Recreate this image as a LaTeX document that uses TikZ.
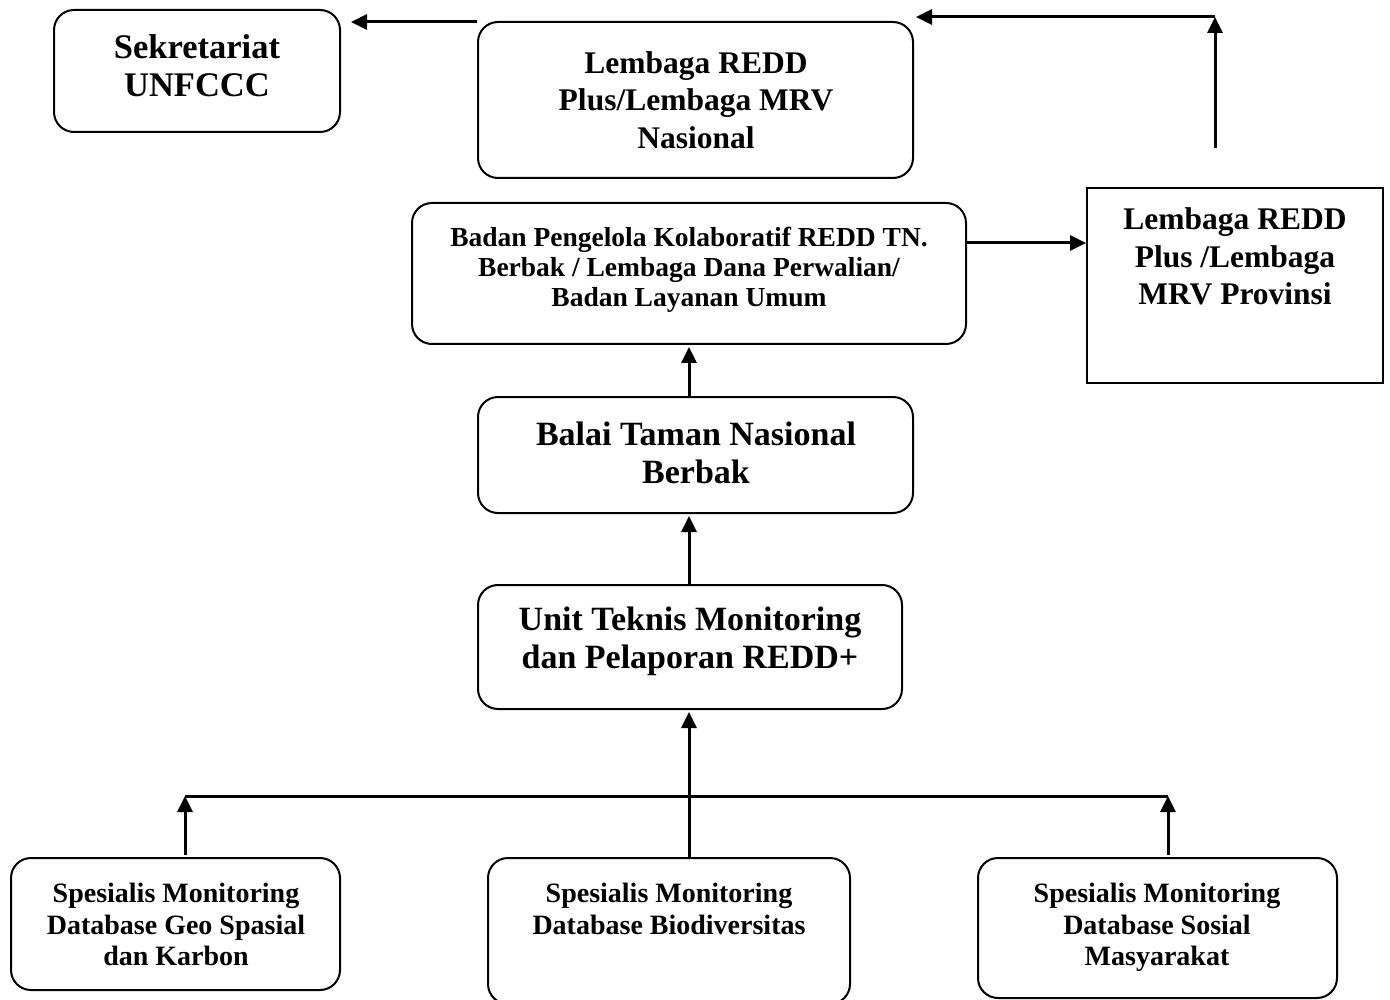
\documentclass[tikz,border=0pt]{standalone}
\usepackage{fontspec}
\setmainfont{Liberation Serif}
\usetikzlibrary{arrows.meta}
\begin{document}
\begin{tikzpicture}[x=1pt,y=-1pt,
  box/.style={draw, line width=2pt, rounded corners=20pt, inner sep=0pt},
  sbox/.style={draw, line width=1.8pt, inner sep=0pt},
  txt/.style={align=center, inner sep=0pt},
  big/.style={font=\fontsize{#1}{37.5}\selectfont\bfseries},
  mid/.style={font=\fontsize{27.5}{30}\selectfont\bfseries},
  sml/.style={font=\fontsize{28}{31.5}\selectfont\bfseries},
  arr/.style={line width=3pt, -{Triangle[length=16pt,width=15pt]}},
  ln/.style={line width=3pt}]
\useasboundingbox (0,0) rectangle (1390,1000);
% boxes
\node[box, minimum width=286pt, minimum height=122pt] (sek) at (197,71) {};
\node[box, minimum width=435pt, minimum height=156pt] (nas) at (695.5,100) {};
\node[box, minimum width=554pt, minimum height=141pt] (badan) at (689,273.5) {};
\node[sbox, minimum width=296pt, minimum height=195pt] (prov) at (1235,285.5) {};
\node[box, minimum width=435pt, minimum height=116pt] (balai) at (695.5,455) {};
\node[box, minimum width=424pt, minimum height=124pt] (unit) at (690,647) {};
\node[box, minimum width=329pt, minimum height=132pt] (geo) at (175.5,924) {};
\node[box, minimum width=362pt, minimum height=146pt] (bio) at (669,931) {};
\node[box, minimum width=359pt, minimum height=140pt] (sos) at (1157.5,928) {};
% texts
\node[txt,big=34.5] (sekT) at (197,65.5) {Sekretariat\\UNFCCC};
\node[txt,big=31.5] (nasT) at (696,100) {Lembaga REDD\\Plus/Lembaga MRV\\Nasional};
\node[txt,mid] (badanT) at (689,270) {Badan Pengelola Kolaboratif REDD TN.\\Berbak / Lembaga Dana Perwalian/\\Badan Layanan Umum};
\node[txt,big=31.5] (provT) at (1235,256.5) {Lembaga REDD\\Plus /Lembaga\\MRV Provinsi};
\node[txt,big=34] (balaiT) at (696,453) {Balai Taman Nasional\\Berbak};
\node[txt,big=34] (unitT) at (690,641.5) {Unit Teknis Monitoring\\dan Pelaporan REDD+};
\node[txt,sml] (geoT) at (176,924.5) {Spesialis Monitoring\\Database Geo Spasial\\dan Karbon};
\node[txt,sml] (bioT) at (669,909) {Spesialis Monitoring\\Database Biodiversitas};
\node[txt,sml] (sosT) at (1157,927.5) {Spesialis Monitoring\\Database Sosial\\Masyarakat};
% connectors
\coordinate (a1) at ([yshift=-1pt]nas.north west);
\draw[arr, shorten >=10pt] (a1) -- (a1 -| sek.east);
\coordinate (pv) at (1215,148);
\coordinate (pc) at (1215,17);
\draw[arr] (pv) -- (pc);
\draw[arr, shorten >=2pt] (pc) -- (pc -| nas.east);
\coordinate (b1) at ([yshift=30.5pt]badan.east);
\draw[arr] (b1) -- (b1 -| prov.west);
\draw[arr, shorten >=2pt] (balai.north -| badan.south) -- (badan.south);
\draw[arr, shorten >=2pt] (unit.north -| badan.south) -- (balai.south -| badan.south);
\draw[arr, shorten >=2pt] (bio.north -| badan.south) -- (unit.south -| badan.south);
\coordinate (busL) at (185,796);
\coordinate (busR) at (1168,796);
\draw[ln] (busL) -- (busR);
\draw[arr, shorten <=2pt] (geo.north -| busL) -- (busL);
\draw[arr, shorten <=2pt] (sos.north -| busR) -- (busR);
\end{tikzpicture}
\end{document}
